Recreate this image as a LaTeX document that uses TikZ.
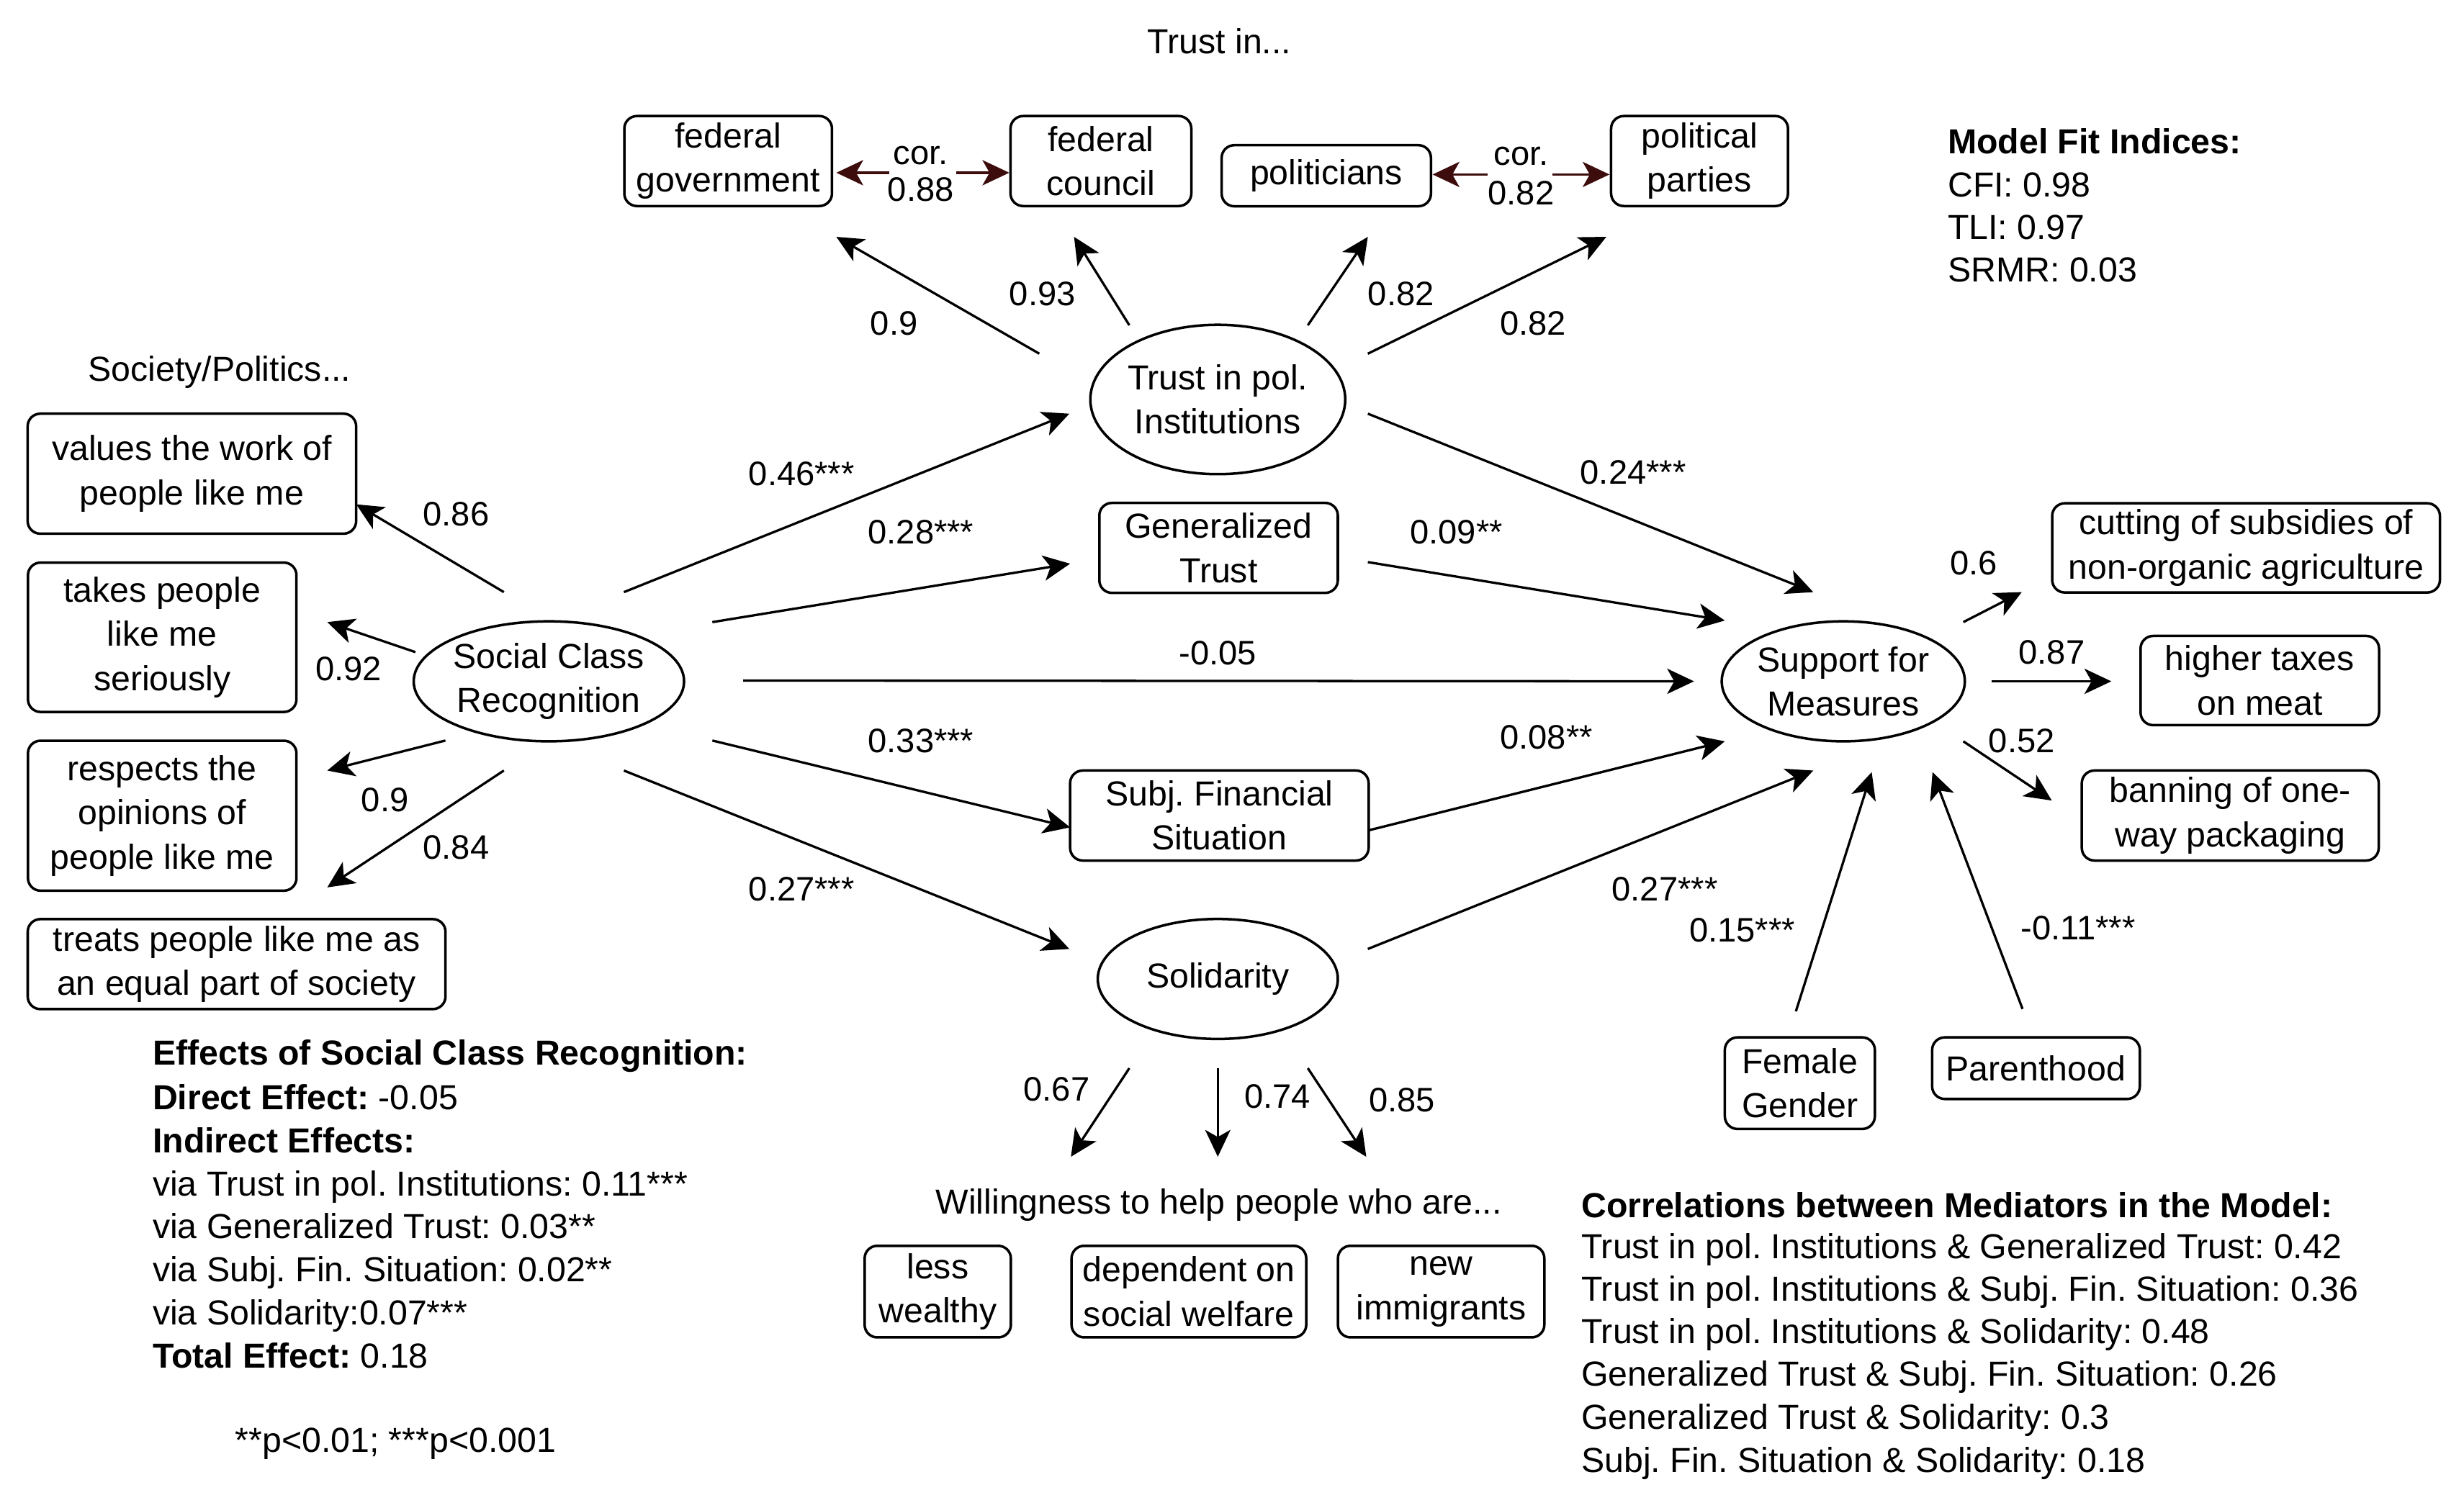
\documentclass[tikz,border=0pt]{standalone}
\usepackage{fontspec}
\setmainfont{Liberation Sans}
\usetikzlibrary{shapes.geometric,arrows.meta,calc}
\definecolor{corcol}{RGB}{61,12,12}
\frenchspacing
\begin{document}
\begin{tikzpicture}[x=1pt,y=-1pt,
  every node/.style={font=\fontsize{22}{28}\selectfont},
  box/.style={draw, rounded corners=8pt, line width=1.6pt, align=center, inner sep=0pt},
  lat/.style={draw, ellipse, line width=1.6pt, align=center, inner sep=0pt},
  arr/.style={-{Stealth[length=17pt,width=16pt,inset=4.5pt]}, line width=1.5pt},
  corarr/.style={arr, draw=corcol},
  lbl/.style={font=\fontsize{21.5}{26}\selectfont, inner sep=0pt},
  txt/.style={anchor=base west, inner sep=0pt, font=\fontsize{22}{27}\selectfont},
  ttl/.style={anchor=base, inner sep=0pt, font=\fontsize{22}{27}\selectfont}]
\useasboundingbox[fill=white] (0,0) rectangle (1560,943.66);

% titles
\node[ttl] (title) at (772,34) {Trust in...};
\node[ttl] (soc) at (139,241.5) {Society/Politics...};
\node[ttl] (will) at (771.6,769) {Willingness to help people who are...};

% top indicators
\node[box, minimum width=131.5pt, minimum height=57pt] (t1) at (461,102) {federal\\government};
\node[box, minimum width=114.5pt, minimum height=57pt] (t2) at (697,102) {federal\\council};
\node[box, minimum width=132.5pt, minimum height=38.7pt] (t3) at (839.7,111.3) {politicians};
\node[box, minimum width=112pt, minimum height=57pt] (t4) at (1076,102) {political\\parties};
\node[lbl, align=center, font=\fontsize{21.5}{23}\selectfont] (c1) at (583,110.2) {cor.\\0.88};
\node[lbl, align=center, font=\fontsize{21.5}{25}\selectfont] (c2) at (963,111.5) {cor.\\0.82};
\draw[corarr] ($(c1)+(-20,-0.8)$) -- ($(t1)+(68.5,7.4)$);
\draw[corarr] ($(c1)+(22.4,-0.8)$) -- ($(t2)+(-58,7.4)$);
\draw[corarr] ($(c2)+(-21,-1)$) -- ($(t3)+(67.3,-0.8)$);
\draw[corarr] ($(c2)+(20,-1)$) -- ($(t4)+(-57,8.5)$);

% latent variables and mediators
\node[lat, minimum width=152pt, minimum height=94.6pt] (trust) at (771,253) {Trust in pol.\\Institutions};
\node[box, minimum width=151pt, minimum height=57pt] (gt) at (771.5,347) {Generalized\\Trust};
\node[box, minimum width=189pt, minimum height=57pt] (sfs) at (772,516.5) {Subj. Financial\\Situation};
\node[lat, minimum width=152pt, minimum height=76pt] (sol) at (771,620) {Solidarity};
\node[lat, minimum width=171pt, minimum height=76pt] (scr) at (347.5,431.5) {Social Class\\Recognition};
\node[lat, minimum width=152pt, minimum height=76pt] (sm) at (1167,431.5) {Support for\\Measures};

% left indicators
\node[box, minimum width=208pt, minimum height=76pt] (l1) at (121.5,300) {values the work of\\people like me};
\node[box, minimum width=170pt, minimum height=94.6pt] (l2) at (102.7,403.6) {takes people\\like me\\seriously};
\node[box, minimum width=170pt, minimum height=95pt] (l3) at (102.7,516.6) {respects the\\opinions of\\people like me};
\node[box, minimum width=264.5pt, minimum height=57pt] (l4) at (149.8,610.6) {treats people like me as\\an equal part of society};

% outcome indicators
\node[box, minimum width=245.5pt, minimum height=56.5pt] (o1) at (1422,347) {cutting of subsidies of\\non-organic agriculture};
\node[box, minimum width=151pt, minimum height=56.5pt] (o2) at (1430.7,431) {higher taxes\\on meat};
\node[box, minimum width=188pt, minimum height=57pt] (o3) at (1412,516.5) {banning of one-\\way packaging};

% covariates
\node[box, minimum width=95pt, minimum height=58pt] (fg) at (1139.5,686) {Female\\Gender};
\node[box, minimum width=131.5pt, minimum height=39pt] (par) at (1289,676.5) {Parenthood};

% solidarity indicators
\node[box, minimum width=92.6pt, minimum height=58pt] (w1) at (593.7,818) {less\\wealthy};
\node[box, minimum width=148.6pt, minimum height=58pt] (w2) at (752.7,818) {dependent on\\social welfare};
\node[box, minimum width=130.7pt, minimum height=58pt] (w3) at (912.4,818) {new\\immigrants};

% SCR loadings
\draw[arr] ($(scr)+(-28.5,-56.5)$) -- ($(l1)+(104,19.4)$);
\draw[arr] ($(scr)+(-84.5,-18.5)$) -- ($(l2)+(104.5,-9.6)$);
\draw[arr] ($(scr)+(-65.5,37.5)$) -- ($(l3)+(104.5,-28.6)$);
\draw[arr] ($(scr)+(-28.5,56.5)$) -- ($(l4)+(57.4,-48.6)$);
\node[lbl] at (288.8,325.8) {0.86};
\node[lbl] at (220.7,423.8) {0.92};
\node[lbl] at (243.7,506.5) {0.9};
\node[lbl] at (288.8,536.6) {0.84};

% SCR paths
\draw[arr] ($(scr)+(47.5,-56.5)$) -- ($(trust)+(-94,9)$);
\draw[arr] ($(scr)+(103.5,-37.5)$) -- ($(gt)+(-94,10)$);
\draw[arr] ($(scr)+(123,-0.5)$) -- ($(sm)+(-94.5,0)$);
\draw[arr] ($(scr)+(103.5,37.5)$) -- ($(sfs)+(-94.5,7.5)$);
\draw[arr] ($(scr)+(47.5,56.5)$) -- ($(sol)+(-94,-19)$);
\node[lbl] at (507.5,300) {0.46***};
\node[lbl] at (583,337) {0.28***};
\node[lbl] at (771,413.5) {-0.05};
\node[lbl] at (583,469) {0.33***};
\node[lbl] at (507.5,563) {0.27***};

% mediator paths
\draw[arr] ($(trust)+(95,9)$) -- ($(sm)+(-19,-56.5)$);
\draw[arr] ($(gt)+(94.5,9)$) -- ($(sm)+(-75,-38.5)$);
\draw[arr] ($(sfs)+(94,9.5)$) -- ($(sm)+(-75,38)$);
\draw[arr] ($(sol)+(95,-19)$) -- ($(sm)+(-19,56.5)$);
\node[lbl] at (1034,299) {0.24***};
\node[lbl] at (922,337) {0.09**};
\node[lbl] at (979,467) {0.08**};
\node[lbl] at (1054,563) {0.27***};

% trust loadings
\draw[arr] ($(trust)+(-113,-29)$) -- ($(t1)+(68.5,48)$);
\draw[arr] ($(trust)+(-56,-47)$) -- ($(t2)+(-17,48)$);
\draw[arr] ($(trust)+(57,-47)$) -- ($(t3)+(26.3,38.7)$);
\draw[arr] ($(trust)+(95,-29)$) -- ($(t4)+(-59,48)$);
\node[lbl] at (566,205) {0.9};
\node[lbl] at (660,186) {0.93};
\node[lbl] at (887,186) {0.82};
\node[lbl] at (970.5,205) {0.82};

% outcome loadings
\draw[arr] ($(sm)+(76,-37.5)$) -- ($(o1)+(-142,28)$);
\draw[arr] ($(sm)+(94,0)$) -- ($(o2)+(-94,0.5)$);
\draw[arr] ($(sm)+(76,38)$) -- ($(o3)+(-113,-9.5)$);
\node[lbl] at (1249.5,356.5) {0.6};
\node[lbl] at (1299,413) {0.87};
\node[lbl] at (1280,469) {0.52};

% covariates
\draw[arr] ($(fg)+(-2.5,-45.5)$) -- ($(sm)+(18,57.5)$);
\draw[arr] ($(par)+(-8.5,-37.5)$) -- ($(sm)+(56.5,57.5)$);
\node[lbl] at (1103,589) {0.15***};
\node[lbl] at (1315.6,587.6) {-0.11***};

% solidarity loadings
\draw[arr] ($(sol)+(-56,56.5)$) -- ($(w1)+(84.3,-85.4)$);
\draw[arr] ($(sol)+(0,56.5)$) -- ($(w2)+(18.3,-85.4)$);
\draw[arr] ($(sol)+(57,56.5)$) -- ($(w3)+(-47.4,-85.4)$);
\node[lbl] at (669,690) {0.67};
\node[lbl] at (808.7,694.6) {0.74};
\node[lbl] at (887.6,696.7) {0.85};

% model fit
\node[txt] (fit0) at (1233,97.5) {\textbf{Model Fit Indices:}};
\node[txt] (fit1) at (1233,124.5) {CFI: 0.98};
\node[txt] (fit2) at (1233,151.5) {TLI: 0.97};
\node[txt] (fit3) at (1233,178.5) {SRMR: 0.03};

% effects
\node[txt] (e0) at (96.5,674.5) {\textbf{Effects of Social Class Recognition:}};
\node[txt] (e1) at (96.5,702.7) {\textbf{Direct Effect:} -0.05};
\node[txt] (e2) at (96.5,730) {\textbf{Indirect Effects:}};
\node[txt] (e3) at (96.5,757.3) {via Trust in pol. Institutions: 0.11***};
\node[txt] (e4) at (96.5,784.5) {via Generalized Trust: 0.03**};
\node[txt] (e5) at (96.5,811.7) {via Subj. Fin. Situation: 0.02**};
\node[txt] (e6) at (96.5,839) {via Solidarity:0.07***};
\node[txt] (e7) at (96.5,866.4) {\textbf{Total Effect:} 0.18};
\node[txt] (pv) at (148.7,919.7) {**p<0.01; ***p<0.001};

% correlations
\node[txt] (k0) at (1001,771) {\textbf{Correlations between Mediators in the Model:}};
\node[txt] (k1) at (1001,797) {Trust in pol. Institutions \& Generalized Trust: 0.42};
\node[txt] (k2) at (1001,824) {Trust in pol. Institutions \& Subj. Fin. Situation: 0.36};
\node[txt] (k3) at (1001,851) {Trust in pol. Institutions \& Solidarity: 0.48};
\node[txt] (k4) at (1001,878) {Generalized Trust \& Subj. Fin. Situation: 0.26};
\node[txt] (k5) at (1001,905) {Generalized Trust \& Solidarity: 0.3};
\node[txt] (k6) at (1001,932.5) {Subj. Fin. Situation \& Solidarity: 0.18};
\end{tikzpicture}
\end{document}
